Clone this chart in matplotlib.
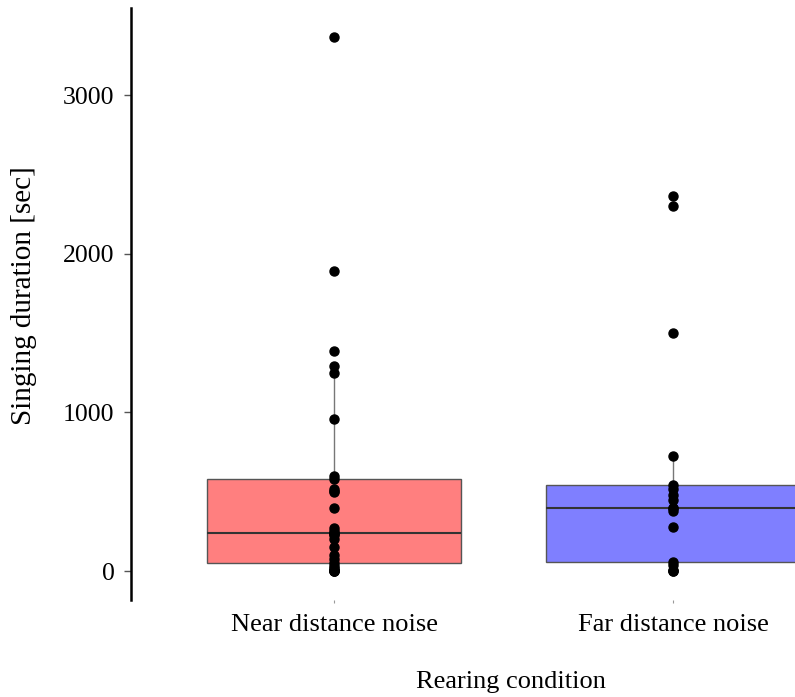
import matplotlib.pyplot as plt
import numpy as np

# singing duration (sec) per bird
categories = ['Near distance noise', 'Far distance noise']
near = [0, 0, 0, 5, 10, 20, 35, 50, 75, 100, 150, 200, 225, 235, 240,
        250, 270, 400, 500, 505, 520, 580, 600, 960, 1250, 1290, 1390, 1890, 3370]
far = [0, 0, 5, 38, 55, 277, 380, 395, 397, 450, 480, 520, 545,
       725, 1500, 2300, 2363]
box_colors = ['#ff7f7f', '#7f7fff']
yticks = [0, 1000, 2000, 3000]

plt.rcParams['font.family'] = 'Liberation Serif'

fig = plt.figure(figsize=(7.95, 6.97), dpi=100)
ax = fig.add_axes([0.165, 0.139, 0.835, 0.849])

bp = ax.boxplot([near, far], positions=[1, 2], widths=0.75, patch_artist=True,
                showfliers=False, showcaps=False,
                medianprops=dict(color='#333333', linewidth=1.5),
                whiskerprops=dict(color='#777777', linewidth=1.0),
                boxprops=dict(edgecolor='#555555', linewidth=1.0))
for patch, c in zip(bp['boxes'], box_colors):
    patch.set_facecolor(c)

for i, vals in enumerate([near, far]):
    ax.plot(np.full(len(vals), i + 1), vals, 'o', color='black',
            markersize=6.5, zorder=5)

ax.set_xlim(0.4, 2.36)
ax.set_ylim(-183, 3548)
ax.set_xticks([1, 2])
ax.set_xticklabels(categories, fontsize=19)
ax.set_yticks(yticks)
ax.set_yticklabels([str(t) for t in yticks], fontsize=18.5)
ax.tick_params(axis='x', length=2, color='#999999', pad=8)
ax.tick_params(axis='y', length=5, width=1, color='#555555', pad=7)

for s in ['top', 'right', 'bottom']:
    ax.spines[s].set_visible(False)
ax.spines['left'].set_linewidth(1.8)

ax.set_ylabel('Singing duration [sec]', fontsize=21)
ax.yaxis.set_label_coords(-0.1416, 0.515)
ax.set_xlabel('Rearing condition', fontsize=19)
# the original panel runs past the right edge, so the title sits right of centre
ax.xaxis.set_label_coords(0.572, -0.119)

fig.savefig('out.png', dpi=100)
